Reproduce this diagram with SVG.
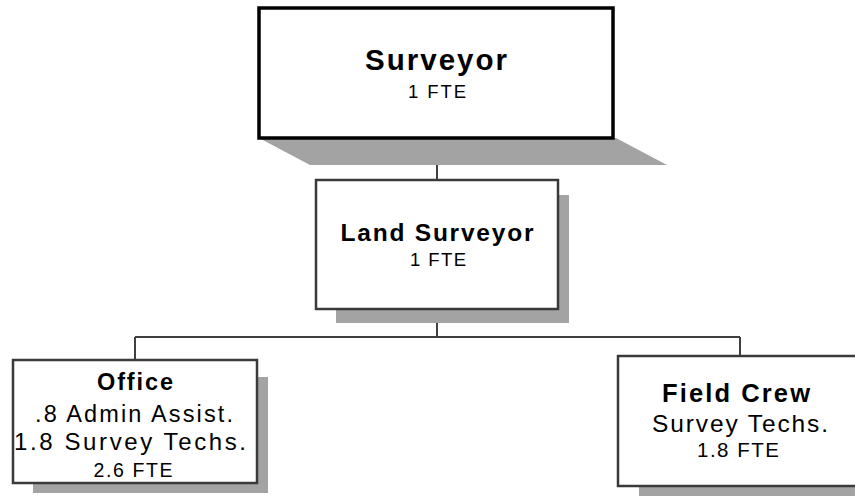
<svg xmlns="http://www.w3.org/2000/svg" width="855" height="496" viewBox="0 0 855 496">
<style>
.shadow{fill:#a3a3a3}
.box{fill:#fff;stroke:#3a3a3a;stroke-width:2.5}
.top{fill:#fff;stroke:#000;stroke-width:3.5}
.conn{stroke:#404040;stroke-width:2;fill:none}
text{font-family:"Liberation Sans",Arial,sans-serif;fill:#000;text-anchor:middle}
.b{font-weight:bold}
</style>
<rect width="855" height="496" fill="#fff"/>
<g id="connectors">
<line class="conn" x1="437" y1="138" x2="437" y2="180"/>
<line class="conn" x1="437" y1="309" x2="437" y2="337"/>
<line class="conn" x1="135" y1="337" x2="740" y2="337"/>
<line class="conn" x1="135" y1="337" x2="135" y2="360"/>
<line class="conn" x1="740" y1="337" x2="740" y2="356"/>
</g>
<g id="surveyor">
<polygon class="shadow" points="259,138 616,138 667,165 310,165"/>
<rect class="top" x="259" y="8" width="354" height="130"/>
<text class="b" x="436" y="70" font-size="29.5" textLength="142" lengthAdjust="spacing">Surveyor</text>
<text x="437" y="98" font-size="18.5" textLength="58" lengthAdjust="spacing">1 FTE</text>
</g>
<g id="land-surveyor">
<rect class="shadow" x="336" y="195" width="233" height="128"/>
<rect class="box" x="316" y="180" width="242" height="129"/>
<text class="b" x="437" y="241" font-size="24.5" textLength="193" lengthAdjust="spacing">Land Surveyor</text>
<text x="438" y="266" font-size="18.5" textLength="56" lengthAdjust="spacing">1 FTE</text>
</g>
<g id="office">
<rect class="shadow" x="33" y="377" width="235" height="116"/>
<rect class="box" x="13" y="360" width="244" height="123"/>
<text class="b" x="135" y="390" font-size="23.5" textLength="76" lengthAdjust="spacing">Office</text>
<text x="134" y="422" font-size="23.5" textLength="198" lengthAdjust="spacing">.8 Admin Assist.</text>
<text x="130" y="450" font-size="24" textLength="232" lengthAdjust="spacing">1.8 Survey Techs.</text>
<text x="133" y="477" font-size="19.5" textLength="79" lengthAdjust="spacing">2.6 FTE</text>
</g>
<g id="field-crew">
<rect class="shadow" x="639" y="372" width="240" height="130"/>
<rect class="box" x="618" y="356" width="250" height="130"/>
<text class="b" x="736" y="402" font-size="25.5" textLength="148" lengthAdjust="spacing">Field Crew</text>
<text x="740" y="432" font-size="24.5" textLength="176" lengthAdjust="spacing">Survey Techs.</text>
<text x="738" y="457" font-size="20.5" textLength="82" lengthAdjust="spacing">1.8 FTE</text>
</g>
</svg>
